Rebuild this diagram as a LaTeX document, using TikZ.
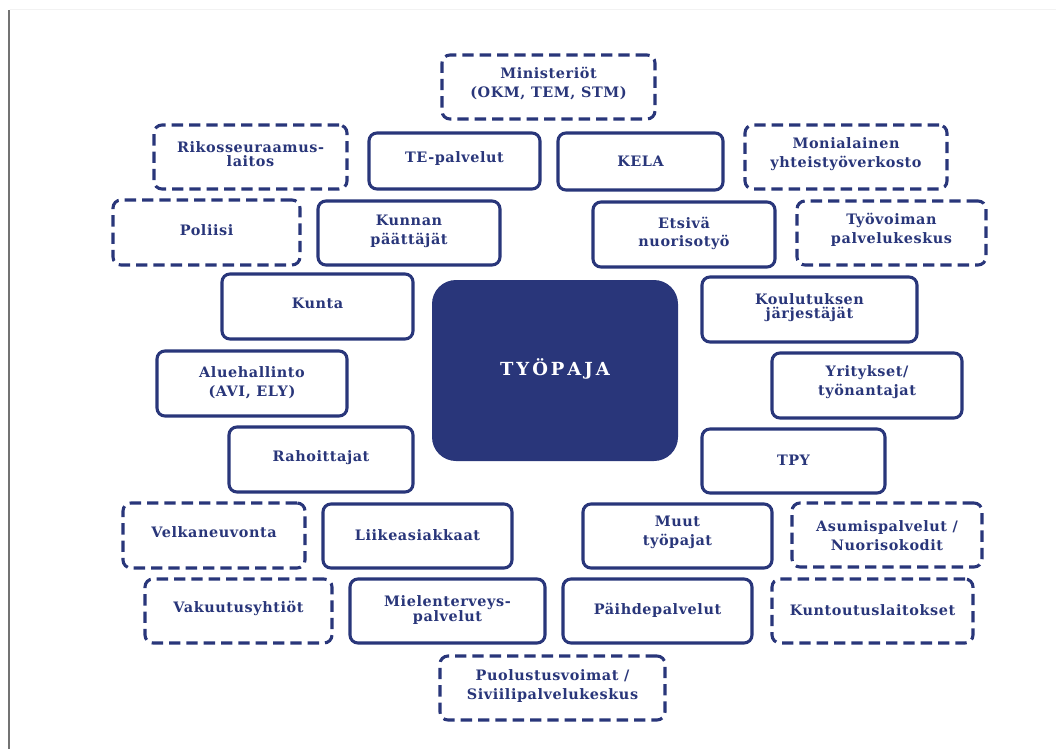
\documentclass[tikz,border=0pt]{standalone}
\usepackage{fontspec}
\setmainfont{DejaVu Serif}[LetterSpace=4]
\usetikzlibrary{fit}
\definecolor{navy}{HTML}{29367A}
\begin{document}
\begin{tikzpicture}[x=0.75pt,y=-0.75pt,
  box/.style={draw=navy, line width=2.3pt, rounded corners=6pt, inner sep=0pt},
  sbox/.style={box},
  dbox/.style={box, dash pattern=on 8.5pt off 4.5pt},
  txt/.style={text=navy, font=\bfseries\fontsize{10.8}{14.2}\selectfont, align=center, inner sep=0pt},
  tight/.style={font=\bfseries\fontsize{10.8}{10.5}\selectfont}]
\useasboundingbox (0,0) rectangle (1056,749);
\fill[white] (0,0) rectangle (1056,749);
\draw[black!5, line width=0.75pt] (10,9.5) -- (1056,9.5);
\draw[black!55, line width=0.9pt] (9,10) -- (9,749);

% centre
\node[fill=navy, rounded corners=18pt, inner sep=0pt, fit={(432,280) (678,461)}] (center) {};
\node[text=white, font=\bfseries\fontsize{13.5}{14}\selectfont, inner sep=0pt] (center-t) at ([yshift=1.5pt]center.center) {T\,Y\,Ö\,P\,A\,J\,A};

% top
\node[dbox, fit={(442,55) (655,119)}] (min) {};
\node[txt] (min-t) at ([yshift=2.6pt]min.center) {Ministeriöt\\(OKM, TEM, STM)};

\node[dbox, fit={(154,125) (347,189)}] (rik) {};
\node[txt, tight] (rik-t) at ([yshift=2.2pt]rik.center) {Rikosseuraamus-\\laitos};

\node[sbox, fit={(369,133) (540,189)}] (te) {};
\node[txt] (te-t) at ([yshift=1.5pt]te.center) {TE-palvelut};

\node[sbox, fit={(558,133) (723,190)}] (kela) {};
\node[txt] (kela-t) at (kela.center) {KELA};

\node[dbox, fit={(745,125) (947,189)}] (mon) {};
\node[txt] (mon-t) at ([yshift=2.2pt]mon.center) {Monialainen\\yhteistyöverkosto};

\node[dbox, fit={(113,200) (300,265)}] (pol) {};
\node[txt] (pol-t) at ([yshift=2pt]pol.center) {Poliisi};

\node[sbox, fit={(318,201) (500,265)}] (kun) {};
\node[txt] (kun-t) at ([yshift=1.5pt]kun.center) {Kunnan\\päättäjät};

\node[sbox, fit={(593,202) (775,267)}] (ets) {};
\node[txt] (ets-t) at ([yshift=0.8pt]ets.center) {Etsivä\\nuorisotyö};

\node[dbox, fit={(797,201) (986,265)}] (tyo) {};
\node[txt] (tyo-t) at ([yshift=2.6pt]tyo.center) {Työvoiman\\palvelukeskus};

% middle left
\node[sbox, fit={(222,274) (413,339)}] (kunta) {};
\node[txt] (kunta-t) at ([yshift=2.6pt]kunta.center) {Kunta};

\node[sbox, fit={(157,351) (347,416)}] (alue) {};
\node[txt] (alue-t) at ([yshift=0.8pt]alue.center) {Aluehallinto\\(AVI, ELY)};

\node[sbox, fit={(229,427) (413,492)}] (rah) {};
\node[txt] (rah-t) at ([yshift=1.2pt]rah.center) {Rahoittajat};

% middle right
\node[sbox, fit={(702,277) (917,342)}] (kou) {};
\node[txt, tight] (kou-t) at ([yshift=1.2pt]kou.center) {Koulutuksen\\järjestäjät};

\node[sbox, fit={(772,353) (962,418)}] (yri) {};
\node[txt] (yri-t) at ([yshift=2.2pt]yri.center) {Yritykset/\\työnantajat};

\node[sbox, fit={(702,429) (885,493)}] (tpy) {};
\node[txt] (tpy-t) at ([yshift=0.8pt]tpy.center) {TPY};

% bottom
\node[dbox, fit={(123,503) (305,568)}] (vel) {};
\node[txt] (vel-t) at ([yshift=2.6pt]vel.center) {Velkaneuvonta};

\node[sbox, fit={(323,504) (512,568)}] (lii) {};
\node[txt] (lii-t) at ([yshift=0.8pt]lii.center) {Liikeasiakkaat};

\node[sbox, fit={(583,504) (772,568)}] (muu) {};
\node[txt] (muu-t) at ([yshift=2.6pt]muu.center) {Muut\\työpajat};

\node[dbox, fit={(792,503) (982,567)}] (asu) {};
\node[txt] (asu-t) at ([yshift=-0.8pt]asu.center) {Asumispalvelut /\\Nuorisokodit};

\node[dbox, fit={(145,579) (332,643)}] (vak) {};
\node[txt] (vak-t) at ([yshift=2.2pt]vak.center) {Vakuutusyhtiöt};

\node[sbox, fit={(350,579) (545,643)}] (mie) {};
\node[txt, tight] (mie-t) at ([yshift=0.8pt]mie.center) {Mielenterveys-\\palvelut};

\node[sbox, fit={(563,579) (752,643)}] (pai) {};
\node[txt] (pai-t) at ([yshift=0.8pt]pai.center) {Päihdepalvelut};

\node[dbox, fit={(772,579) (973,643)}] (kuo) {};
\node[txt] (kuo-t) at ([yshift=0.8pt]kuo.center) {Kuntoutuslaitokset};

\node[dbox, fit={(440,656) (665,720)}] (puo) {};
\node[txt] (puo-t) at ([yshift=1.2pt]puo.center) {Puolustusvoimat /\\Siviilipalvelukeskus};
\end{tikzpicture}
\end{document}
